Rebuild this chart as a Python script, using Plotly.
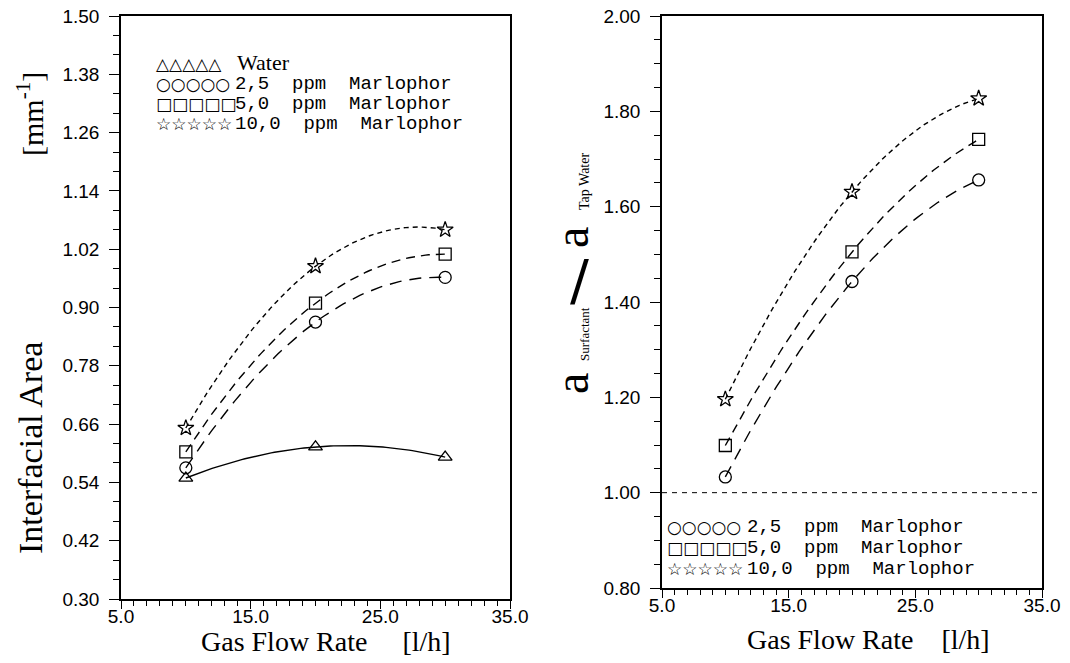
import numpy as np
import plotly.graph_objects as go

W, H = 1070, 663

# ---- data -------------------------------------------------------------
flow = [10, 20, 30]                       # gas flow rate [l/h]

# interfacial area [1/mm]
area_water = [0.549, 0.613, 0.592]
area_25 = [0.570, 0.870, 0.962]
area_50 = [0.603, 0.909, 1.010]
area_100 = [0.652, 0.985, 1.060]

# ratio a_surfactant / a_tap_water
ratio_25 = [1.033, 1.443, 1.656]
ratio_50 = [1.099, 1.505, 1.741]
ratio_100 = [1.196, 1.631, 1.827]
ratio_ref = 1.0

x_ticks = [5.0, 15.0, 25.0, 35.0]
left_yticks = [0.30, 0.42, 0.54, 0.66, 0.78, 0.90, 1.02, 1.14, 1.26, 1.38, 1.50]
right_yticks = [0.80, 1.00, 1.20, 1.40, 1.60, 1.80, 2.00]

legend_left = ["Water", "2,5 ppm Marlophor", "5,0 ppm Marlophor", "10,0 ppm Marlophor"]
legend_right = ["2,5  ppm  Marlophor", "5,0  ppm  Marlophor", "10,0  ppm  Marlophor"]


def px_x(p):
    return p / W


def px_y(p):
    return 1 - p / H


fig = go.Figure()

xs = np.linspace(flow[0], flow[-1], 80)


def add_series(vals, symbol, dash, xa, ya):
    # smooth quadratic through the three measured points
    coef = np.polyfit(flow, vals, 2)
    fig.add_trace(go.Scatter(
        x=xs, y=np.polyval(coef, xs), mode="lines",
        line=dict(color="black", width=1.4, dash=dash),
        xaxis=xa, yaxis=ya, showlegend=False, hoverinfo="skip"))
    fig.add_trace(go.Scatter(
        x=flow, y=vals, mode="markers",
        marker=dict(symbol=symbol, size=12, color="black",
                    line=dict(color="black", width=1.3)),
        xaxis=xa, yaxis=ya, showlegend=False))


add_series(area_water, "triangle-up-open", "solid", "x", "y")
add_series(area_25, "circle-open", "12px,8px", "x", "y")
add_series(area_50, "square-open", "9px,6px", "x", "y")
add_series(area_100, "star-open", "5px,4px", "x", "y")

add_series(ratio_25, "circle-open", "12px,8px", "x2", "y2")
add_series(ratio_50, "square-open", "9px,6px", "x2", "y2")
add_series(ratio_100, "star-open", "5px,4px", "x2", "y2")

tickfont = dict(family="Liberation Sans", size=19, color="black")


def xaxis_cfg(domain):
    return dict(
        domain=domain, range=[5, 35], tickvals=x_ticks,
        ticktext=[f"{v:.1f}" for v in x_ticks],
        ticks="outside", ticklen=8, tickwidth=1.3, tickcolor="black",
        minor=dict(dtick=1, tick0=5, ticks="outside", ticklen=5,
                   tickwidth=1.1, tickcolor="black"),
        showline=True, linecolor="black", linewidth=1.5, mirror=True,
        showgrid=False, zeroline=False, tickfont=tickfont,
        ticklabelstandoff=-9, automargin=False)


def yaxis_cfg(domain, rng, vals, minor):
    return dict(
        domain=domain, range=rng, tickvals=vals,
        ticktext=[f"{v:.2f}" for v in vals],
        ticks="outside", ticklen=10, tickwidth=1.3, tickcolor="black",
        minor=dict(dtick=minor, tick0=rng[0], ticks="outside", ticklen=6,
                   tickwidth=1.1, tickcolor="black"),
        showline=True, linecolor="black", linewidth=1.5, mirror=True,
        showgrid=False, zeroline=False, tickfont=tickfont,
        ticklabelstandoff=6, automargin=False)


fig.update_layout(
    width=W, height=H,
    margin=dict(l=0, r=0, t=0, b=0, autoexpand=False),
    paper_bgcolor="white", plot_bgcolor="white",
    showlegend=False,
    xaxis=xaxis_cfg([px_x(121), px_x(510)]),
    yaxis=yaxis_cfg([px_y(599), px_y(16)], [0.30, 1.50], left_yticks, 0.04),
    xaxis2=xaxis_cfg([px_x(662), px_x(1042)]) | dict(anchor="y2"),
    yaxis2=yaxis_cfg([px_y(588), px_y(16)], [0.80, 2.00], right_yticks, 0.05) | dict(anchor="x2"),
)

# reference line at ratio 1
fig.add_shape(type="line", xref="x2 domain", x0=0, x1=1, yref="y2",
              y0=ratio_ref, y1=ratio_ref,
              line=dict(color="black", width=1, dash="5px,5px"))

serif = "Liberation Serif"
mono = "Liberation Mono"
sym = "DejaVu Sans"


def note(x, y, text, size, family, angle=0, xanchor="center"):
    fig.add_annotation(x=px_x(x), y=px_y(y), xref="paper", yref="paper",
                       text=text, showarrow=False, textangle=angle,
                       xanchor=xanchor, yanchor="middle", borderpad=0,
                       font=dict(family=family, size=size, color="black"))


# axis titles
nb = "\u00a0"
note(326, 641, f"Gas Flow Rate{nb*5}[l/h]", 28, serif)
note(868, 639, f"Gas Flow Rate{nb*4}[l/h]", 28, serif)
note(30, 448, "Interfacial Area", 34, serif, angle=-90)
note(30, 114, "[mm<sup>-1</sup>]", 30, serif, angle=-90)

# ratio title, built from its parts (reads bottom to top)
note(571, 384, "a", 48, serif, angle=-90)
note(584, 334, "Surfactant", 13, serif, angle=-90)
note(579, 279, "/", 56, sym)
note(571, 238, "a", 48, serif, angle=-90)
note(584, 182, "Tap Water", 14, serif, angle=-90)

# legend, left panel
left_syms = ["\u25b3" * 5, "\u25cb" * 5, "\u25a1" * 5, "\u2606" * 5]
for i, (s, lab) in enumerate(zip(left_syms, legend_left)):
    y = 64 + i * 20
    note(155, y, s, 17, sym, xanchor="left")
    if i == 0:
        note(236, y - 2, lab, 22, serif, xanchor="left")
    else:
        note(234, y, lab.replace(" ", nb * 2), 19, mono, xanchor="left")

# legend, right panel
right_syms = ["\u25cb" * 5, "\u25a1" * 5, "\u2606" * 5]
for i, (s, lab) in enumerate(zip(right_syms, legend_right)):
    y = 527 + i * 21
    note(666, y, s, 17, sym, xanchor="left")
    note(746, y, lab.replace(" ", nb), 19, mono, xanchor="left")

fig.write_html("out.html")
